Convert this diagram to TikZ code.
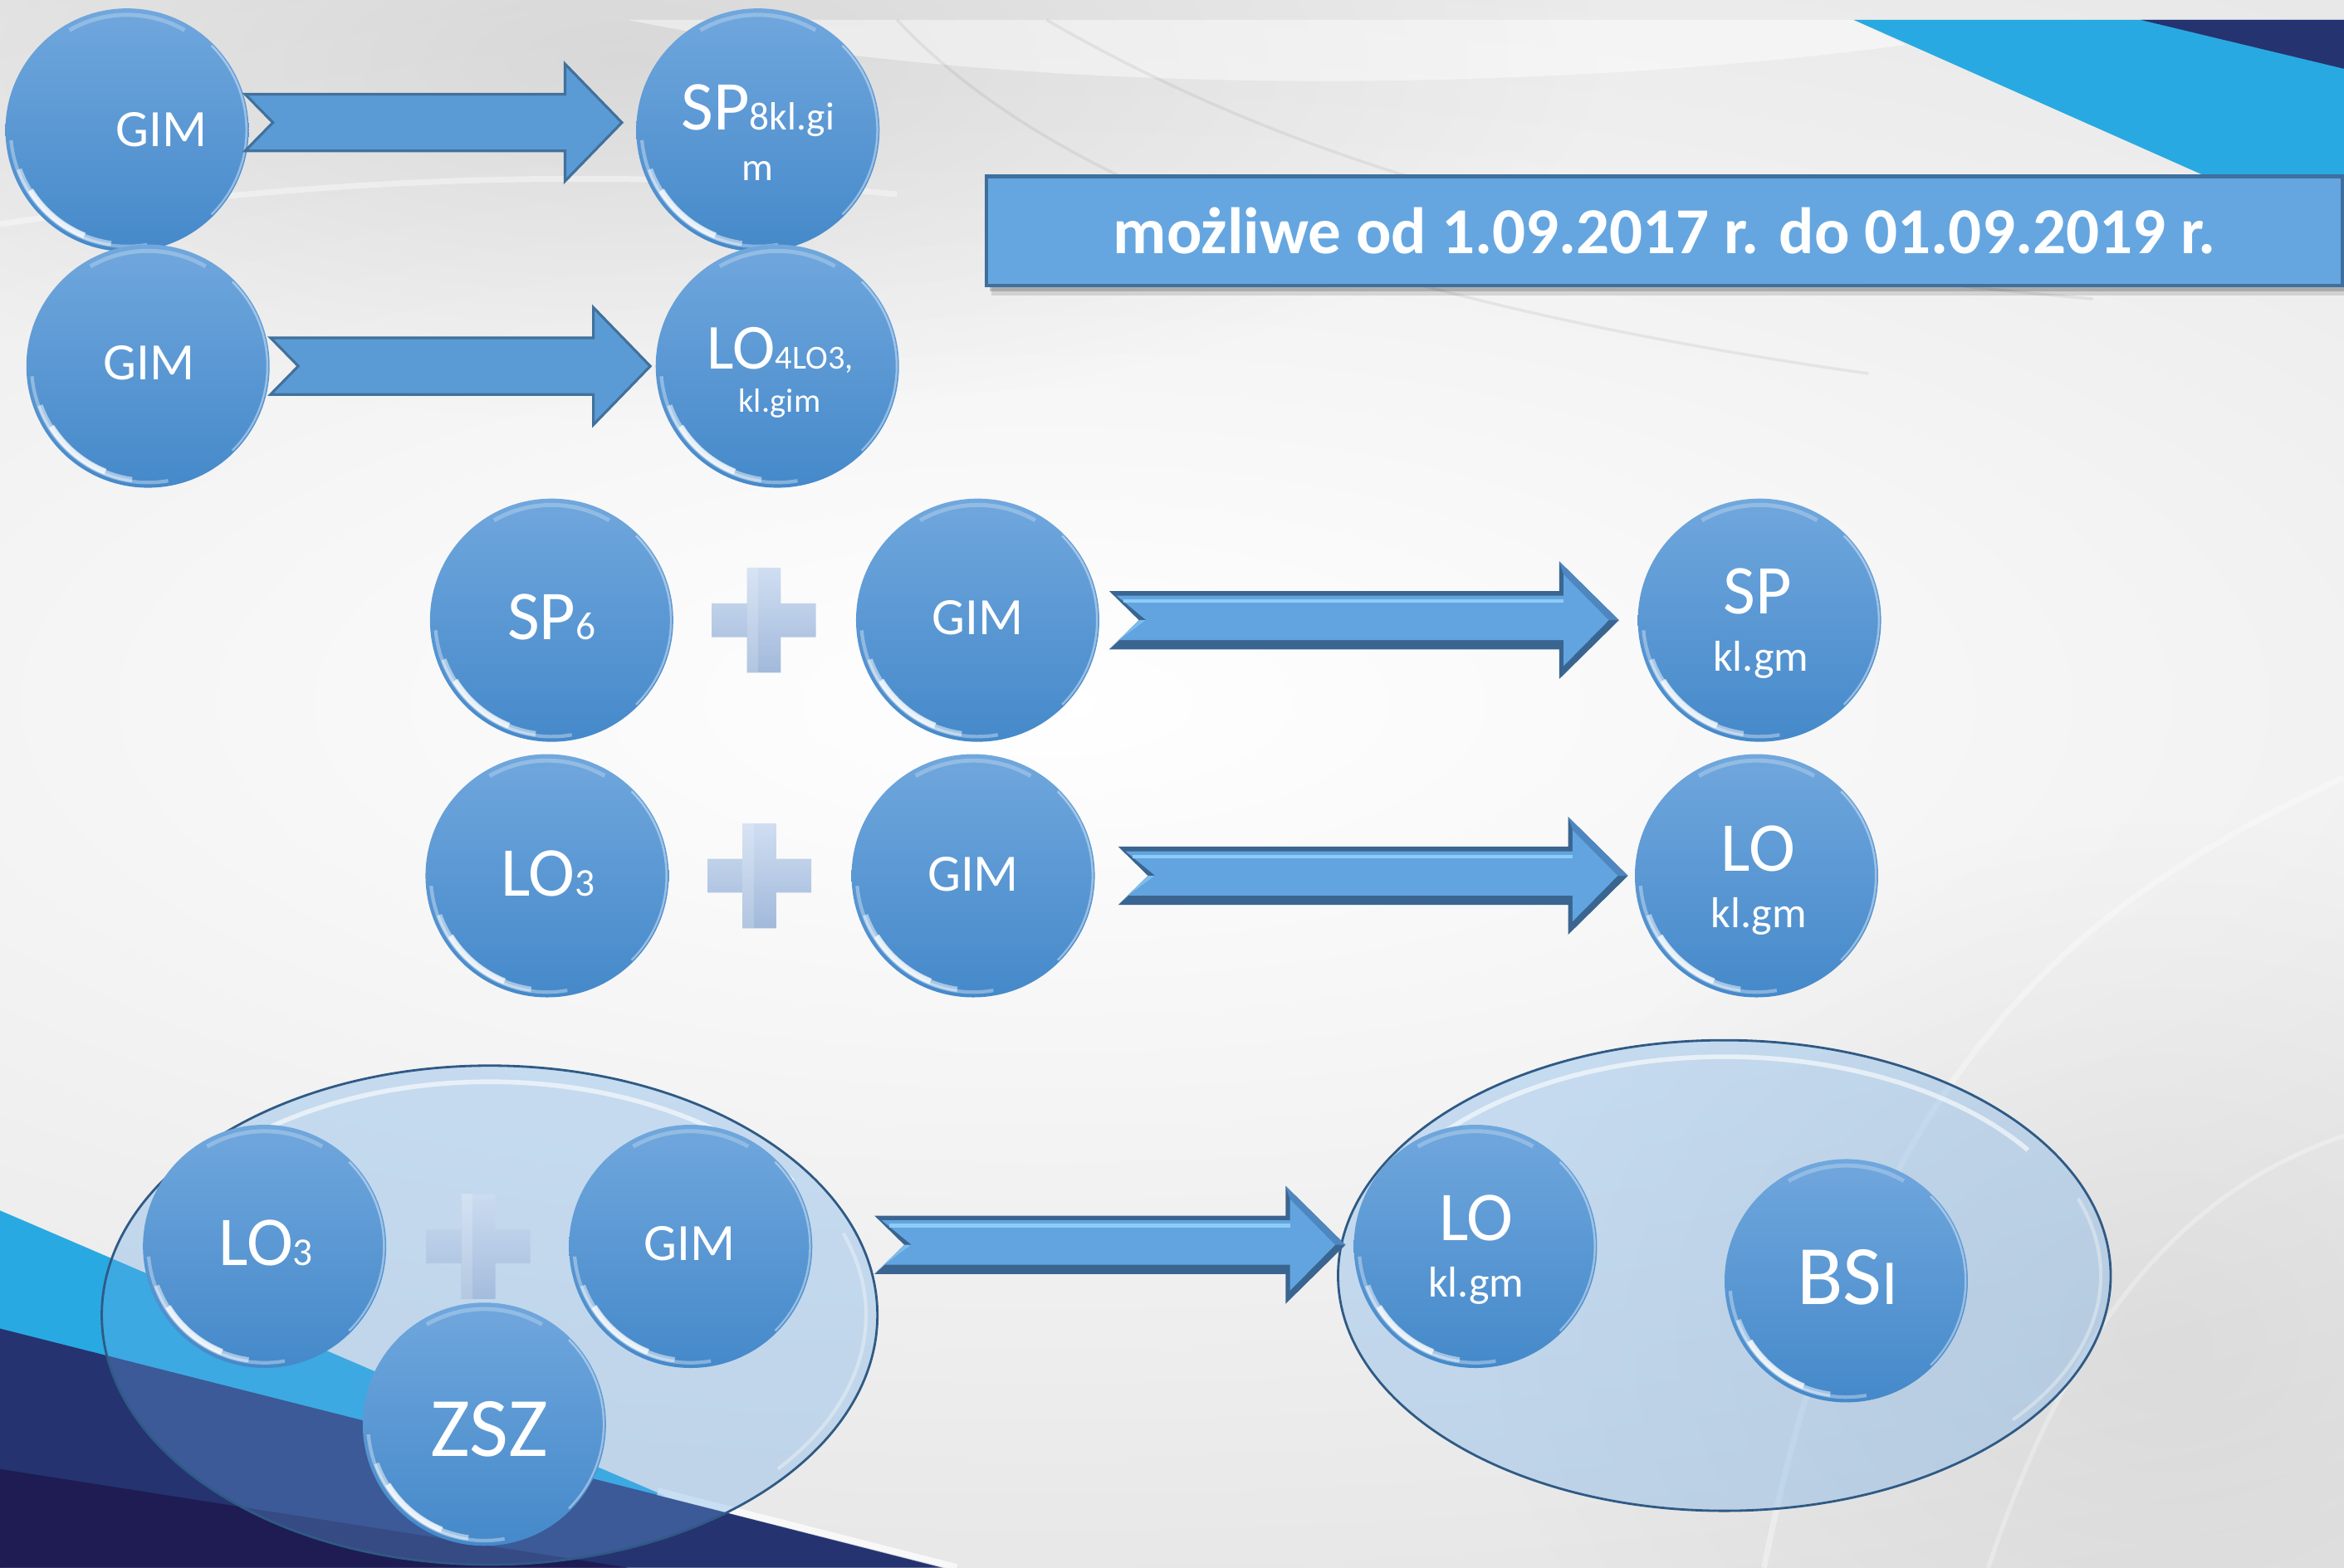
\documentclass[tikz,border=0pt]{standalone}
\usepackage{fontspec}
\setmainfont{Carlito}
\usetikzlibrary{shapes.geometric,calc,fadings}

\tikzfading[name=softglow, inner color=transparent!0, outer color=transparent!100]

\definecolor{ballTop}{RGB}{112,167,221}
\definecolor{ballBot}{RGB}{69,137,202}
\definecolor{arrFill}{RGB}{91,155,213}
\definecolor{arrLine}{RGB}{65,113,156}
\definecolor{bevMain}{RGB}{98,164,223}
\definecolor{bevDark}{RGB}{58,101,145}
\definecolor{bevLight}{RGB}{140,205,248}
\definecolor{bevMid}{RGB}{78,134,192}
\definecolor{banFill}{RGB}{101,166,224}
\definecolor{banLine}{RGB}{63,111,158}
\definecolor{bgGray}{RGB}{230,229,229}
\definecolor{cyanBand}{RGB}{41,169,225}
\definecolor{navyBand}{RGB}{37,51,112}
\definecolor{darkNavy}{RGB}{30,28,82}
\definecolor{ovlBlue}{RGB}{104,170,231}
\definecolor{ovlLine}{RGB}{47,90,133}
\definecolor{plusTop}{RGB}{206,221,242}
\definecolor{plusBot}{RGB}{157,182,217}

\newcommand\fbig{\fontsize{24}{28}\selectfont}
\newcommand\fmid{\fontsize{22}{26}\selectfont}
\newcommand\fsml{\fontsize{13.5}{16}\selectfont}
\newcommand\ftiny{\fontsize{11.5}{14}\selectfont}
\newcommand\fklgm{\fontsize{14.8}{17}\selectfont}
\newcommand\fgim{\fontsize{18}{21}\selectfont}
\newcommand\fhuge{\fontsize{29}{33}\selectfont}

\tikzset{
  ball/.style={circle, minimum size=2.93cm, inner sep=0pt, draw=none,
    top color=ballTop, bottom color=ballBot},
  lbl/.style={text=white, inner sep=0pt, anchor=base},
  glass/.style={ellipse, inner sep=0pt, draw=ovlLine, line width=0.8pt,
    fill=ovlBlue, fill opacity=0.33},
  flatarr/.style={fill=arrFill, draw=arrLine, line width=0.9pt, line join=miter},
  bannerbox/.style={rectangle, fill=banFill, draw=banLine, line width=1.2pt,
    minimum width=16.33cm, minimum height=1.314cm, inner sep=0pt,
    text=white, font=\fontsize{22.5}{26}\selectfont\bfseries}
}

\newcommand\ballhl[1]{%
  \draw[white, opacity=0.35, line width=1.2pt] ([shift={(185:39.9pt)}]#1.center) arc[start angle=185, end angle=280, radius=39.9pt];
  \draw[white, opacity=0.5, line width=1.8pt] ([shift={(200:39.3pt)}]#1.center) arc[start angle=200, end angle=262, radius=39.3pt];
  \draw[white, opacity=0.75, line width=2pt] ([shift={(212:39pt)}]#1.center) arc[start angle=212, end angle=248, radius=39pt];
  \draw[white, opacity=0.4, line width=0.7pt] ([shift={(-45:40.9pt)}]#1.center) arc[start angle=-45, end angle=45, radius=40.9pt];
  \draw[white, opacity=0.25, line width=1.4pt] ([shift={(60:39.5pt)}]#1.center) arc[start angle=60, end angle=120, radius=39.5pt];
}

\newcommand\flatarrow[2]{%
  \path[flatarr] let \p1=(#1), \p2=(#2) in
  (\x1,{\y1+9.7pt}) -- ({\x2-19.5pt},{\y1+9.7pt}) -- ({\x2-19.5pt},{\y1+20.1pt})
  -- (\x2,\y1) -- ({\x2-19.5pt},{\y1-20.1pt}) -- ({\x2-19.5pt},{\y1-9.7pt})
  -- (\x1,{\y1-9.7pt}) -- ({\x1+9.5pt},\y1) -- cycle;}

\newcommand\bevelarrow[2]{%
  \fill[bevDark] let \p1=(#1), \p2=(#2) in
  (\x1,{\y1+10pt}) -- ({\x2-20.5pt},{\y1+10pt}) -- ({\x2-20.5pt},{\y1+20.2pt})
  -- (\x2,\y1) -- ({\x2-20.5pt},{\y1-20.2pt}) -- ({\x2-20.5pt},{\y1-10pt})
  -- (\x1,{\y1-10pt}) -- ({\x1+10.2pt},\y1) -- cycle;
  \fill[bevMid] let \p1=(#1), \p2=(#2) in
  ({\x2-20.5pt},{\y1+20.2pt}) -- (\x2,\y1) -- ({\x2-3.5pt},\y1) -- ({\x2-19pt},{\y1+15.7pt}) -- cycle;
  \fill[bevLight!60!bevMain] let \p1=(#1), \p2=(#2) in
  (\x1,{\y1-10pt}) -- ({\x1+10.2pt},\y1) -- ({\x1+12.7pt},\y1) -- ({\x1+3.5pt},{\y1-6.8pt}) -- cycle;
  \fill[bevMain] let \p1=(#1), \p2=(#2) in
  ({\x1+2.5pt},{\y1+8.4pt}) -- ({\x2-19pt},{\y1+8.4pt}) -- ({\x2-19pt},{\y1+15.7pt})
  -- ({\x2-3.5pt},\y1) -- ({\x2-19pt},{\y1-15.7pt}) -- ({\x2-19pt},{\y1-6.8pt})
  -- ({\x1+3.5pt},{\y1-6.8pt}) -- ({\x1+12.7pt},\y1) -- cycle;
  \draw[bevLight, line width=1.3pt] let \p1=(#1), \p2=(#2) in
  ({\x1+5pt},{\y1+6.6pt}) -- ({\x2-19pt},{\y1+6.6pt});
}

\newcommand\plussign[2]{%
  \shade[top color=plusTop, bottom color=plusBot, opacity=#2]
  ([shift={(-5.8pt,18pt)}]#1) -- ([shift={(5.8pt,18pt)}]#1) -- ([shift={(5.8pt,5.8pt)}]#1)
  -- ([shift={(17.8pt,5.8pt)}]#1) -- ([shift={(17.8pt,-5.8pt)}]#1) -- ([shift={(5.8pt,-5.8pt)}]#1)
  -- ([shift={(5.8pt,-18pt)}]#1) -- ([shift={(-5.8pt,-18pt)}]#1) -- ([shift={(-5.8pt,-5.8pt)}]#1)
  -- ([shift={(-17.8pt,-5.8pt)}]#1) -- ([shift={(-17.8pt,5.8pt)}]#1) -- ([shift={(-5.8pt,5.8pt)}]#1) -- cycle;
  \fill[white, opacity=0.18] ([shift={(-5.8pt,18pt)}]#1) rectangle ([shift={(-2pt,-18pt)}]#1);
}

\begin{document}
\begin{tikzpicture}[x=0.018cm,y=-0.018cm]
\useasboundingbox (0,0) rectangle (1568,1049);

% ---------- background ----------
\fill[white] (0,0) rectangle (1568,1049);
\fill[bgGray] (0,13.3) rectangle (1568,1049);
\shade[inner color=white, outer color=bgGray] (700,470) ellipse [x radius=1700, y radius=640];
\fill[black!30, opacity=0.35, path fading=softglow] (420,40) ellipse [x radius=650, y radius=240];
\fill[black!30, opacity=0.25, path fading=softglow] (1450,900) ellipse [x radius=450, y radius=350];
\fill[white, opacity=0.45] (420,13.3) .. controls (700,70) and (1050,60) .. (1275,30) -- (1240,13.3) -- cycle;
\draw[white, opacity=0.35, line width=2pt] (1568,520) .. controls (1400,600) and (1250,700) .. (1180,1049);
\draw[white, opacity=0.3, line width=1.5pt] (1568,760) .. controls (1450,800) and (1380,900) .. (1330,1049);
\draw[white, opacity=0.4, line width=2pt] (0,150) .. controls (200,120) and (400,110) .. (600,130);
\draw[black, opacity=0.06, line width=1pt] (600,13.3) .. controls (700,120) and (900,200) .. (1250,250);
\draw[black, opacity=0.06, line width=1pt] (700,13.3) .. controls (850,100) and (1050,170) .. (1400,200);
\fill[cyanBand] (1240,13.3) -- (1568,13.3) -- (1568,159) -- cycle;
\fill[navyBand] (1432,13.3) -- (1568,13.3) -- (1568,46) -- cycle;
\fill[cyanBand] (0,810) -- (445,1001) -- (0,1049) -- cycle;
\fill[navyBand] (0,889) -- (632,1049) -- (0,1049) -- cycle;
\fill[darkNavy] (0,983) -- (420,1049) -- (0,1049) -- cycle;
\draw[white, opacity=0.7, line width=2.5pt] (440,998) -- (640,1049);

% ---------- banner ----------
\fill[black, opacity=0.12] (663,123) rectangle (1568,198);
\fill[black, opacity=0.18] (662,121) rectangle (1568,195);
\node[bannerbox] (ban) at (1113.5,154.5) {możliwe od 1.09.2017 r. do 01.09.2019 r.};

% ---------- glass groups ----------
\node[glass, minimum width=9.342cm, minimum height=6.012cm] (gl) at (327.5,880) {};
\node[glass, minimum width=9.306cm, minimum height=5.67cm] (gr) at (1153.5,853.5) {};
\draw[white, opacity=0.6, line width=1.6pt] ([shift={(35:127pt and 80pt)}]gl.center) arc[start angle=35, end angle=145, x radius=127pt, y radius=80pt];
\draw[white, opacity=0.6, line width=1.6pt] ([shift={(35:127pt and 75pt)}]gr.center) arc[start angle=35, end angle=145, x radius=127pt, y radius=75pt];
\draw[white, opacity=0.35, line width=1.2pt] ([shift={(-40:129pt and 77pt)}]gr.center) arc[start angle=-40, end angle=20, x radius=129pt, y radius=77pt];
\draw[white, opacity=0.35, line width=1.2pt] ([shift={(-40:129pt and 82pt)}]gl.center) arc[start angle=-40, end angle=20, x radius=129pt, y radius=82pt];

% ---------- balls ----------
\node[ball] (gimA) at (85,87) {};        \ballhl{gimA}
\node[ball] (spA) at (507,87) {};        \ballhl{spA}
\node[ball] (gimB) at (99,245) {};       \ballhl{gimB}
\node[ball] (loA) at (520,245) {};       \ballhl{loA}
\node[ball] (spB) at (369,415) {};       \ballhl{spB}
\node[ball] (gimC) at (654,415) {};      \ballhl{gimC}
\node[ball] (spC) at (1177,415) {};      \ballhl{spC}
\node[ball] (loB) at (366,586) {};       \ballhl{loB}
\node[ball] (gimD) at (651,586) {};      \ballhl{gimD}
\node[ball] (loC) at (1175,586) {};      \ballhl{loC}
\node[ball] (loD) at (177,834) {};       \ballhl{loD}
\node[ball] (gimE) at (462,834) {};      \ballhl{gimE}
\node[ball] (zsz) at (324,953) {};       \ballhl{zsz}
\node[ball] (loE) at (987,834) {};       \ballhl{loE}
\node[ball] (bsi) at (1235,857) {};      \ballhl{bsi}

% ---------- plus signs ----------
\coordinate (plA) at (511,415);
\coordinate (plB) at (508,586);
\coordinate (plC) at (320,834);
\plussign{plA}{0.95}
\plussign{plB}{0.95}
\plussign{plC}{0.8}

% ---------- arrows ----------
\coordinate (a1s) at (164,82);  \coordinate (a1e) at (416,82);
\coordinate (a2s) at (181,245); \coordinate (a2e) at (435,245);
\coordinate (a3s) at (742,415); \coordinate (a3e) at (1083,415);
\coordinate (a4s) at (748,586); \coordinate (a4e) at (1089,586);
\coordinate (a5s) at (585,833); \coordinate (a5e) at (900,833);
\flatarrow{a1s}{a1e}
\flatarrow{a2s}{a2e}
\bevelarrow{a3s}{a3e}
\bevelarrow{a4s}{a4e}
\bevelarrow{a5s}{a5e}

% ---------- labels ----------
\node[lbl, font=\fgim] (tA) at (108,97.9) {GIM};
\node[lbl] (tB1) at (507,86.8) {{\fbig SP}{\fsml 8kl.gi}};
\node[lbl, font=\fsml] (tB2) at (507,121) {m};
\node[lbl, font=\fgim] (tC) at (99.6,254) {GIM};
\node[lbl] (tD1) at (522,247) {{\fmid LO}{\ftiny 4LO3,}};
\node[lbl, font=\ftiny] (tD2) at (521.5,275.7) {kl.gim};
\node[lbl] (tE) at (369,428) {{\fbig SP}{\fsml 6}};
\node[lbl, font=\fgim] (tF) at (654,424.7) {GIM};
\node[lbl, font=\fbig] (tG1) at (1175.6,411) {SP};
\node[lbl, font=\fklgm] (tG2) at (1178,449) {kl.gm};
\node[lbl] (tH) at (366.5,599.8) {{\fbig LO}{\fsml 3}};
\node[lbl, font=\fgim] (tI) at (651,596) {GIM};
\node[lbl, font=\fbig] (tJ1) at (1176,583) {LO};
\node[lbl, font=\fklgm] (tJ2) at (1176.5,620.5) {kl.gm};
\node[lbl] (tK) at (177.8,847) {{\fbig LO}{\fsml 3}};
\node[lbl, font=\fgim] (tL) at (461.4,843.6) {GIM};
\node[lbl, font=\fhuge] (tM) at (327.3,974.7) {ZSZ};
\node[lbl, font=\fbig] (tN1) at (987.4,830) {LO};
\node[lbl, font=\fklgm] (tN2) at (987.4,867.8) {kl.gm};
\node[lbl] (tO) at (1236,873) {{\fhuge BS}{\fontsize{22}{26}\selectfont I}};
\end{tikzpicture}
\end{document}
